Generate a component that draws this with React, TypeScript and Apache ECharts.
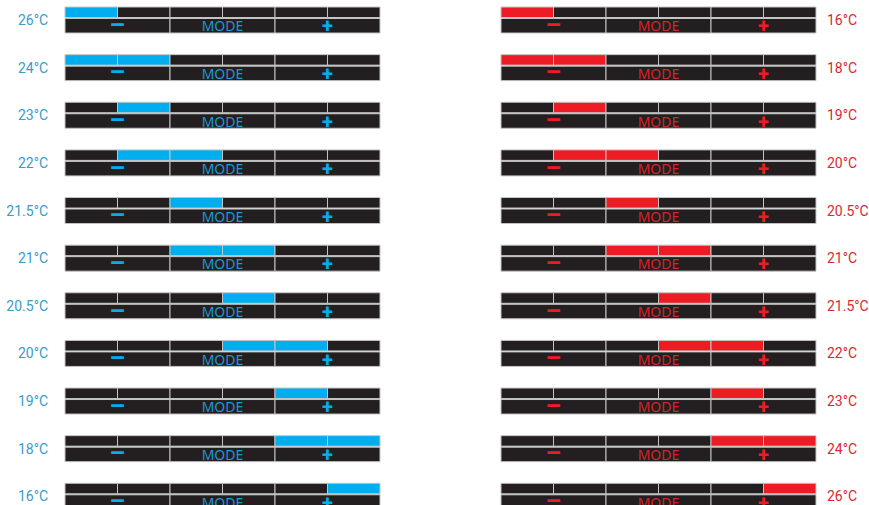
import React, { useEffect, useRef } from "react";
import * as echarts from "echarts";

const leftTemps = ["26°C", "24°C", "23°C", "22°C", "21.5°C", "21°C", "20.5°C", "20°C", "19°C", "18°C", "16°C"];
const rightTemps = ["16°C", "18°C", "19°C", "20°C", "20.5°C", "21°C", "21.5°C", "22°C", "23°C", "24°C", "26°C"];
const segStart = [0, 0, 1, 1, 2, 2, 3, 3, 4, 4, 5];
const segEnd = [1, 2, 2, 3, 3, 4, 4, 5, 5, 6, 6];
const buttonLabels = ["−", "MODE", "+"];
const segmentCount = 6;

const DARK = "#231f20";
const SEP = "#c4c4c4";

function makeRenderItem(barColor: string, textColor: string) {
  return (params: any, api: any) => {
    const row = api.value(0);
    const s = api.value(1);
    const e = api.value(2);
    const y = api.coord([0, row])[1];
    const xs: number[] = [];
    for (let k = 0; k <= segmentCount; k++) xs.push(api.coord([k, row])[0]);
    const children: any[] = [];
    const topY = y - 13;
    const topH = 10.5;
    const botY = y - 1.5;
    const botH = 14.5;
    for (let k = 0; k < segmentCount; k++) {
      const active = k >= s && k < e;
      children.push({
        type: "rect",
        shape: { x: xs[k], y: topY, width: xs[k + 1] - xs[k], height: topH },
        style: { fill: active ? barColor : DARK, stroke: SEP, lineWidth: 1 },
      });
    }
    for (let b = 0; b < 3; b++) {
      const x0 = xs[b * 2];
      const x1 = xs[b * 2 + 2];
      children.push({
        type: "rect",
        shape: { x: x0, y: botY, width: x1 - x0, height: botH },
        style: { fill: DARK, stroke: SEP, lineWidth: 1 },
      });
      const label = buttonLabels[b];
      const isWord = label === "MODE";
      const isPlus = label === "+";
      children.push({
        type: "text",
        style: {
          x: (x0 + x1) / 2,
          y: botY + botH / 2 + (isWord ? 0 : isPlus ? 0.5 : -2),
          text: label,
          fill: isWord ? textColor : barColor,
          font: isWord
            ? "14px 'Noto Sans', sans-serif"
            : isPlus
            ? "bold 20px Roboto, sans-serif"
            : "bold 26px 'Noto Sans', sans-serif",
          align: "center",
          verticalAlign: "middle",
        },
      });
    }
    return { type: "group", children };
  };
}

export default function App() {
  const ref = useRef<HTMLDivElement>(null);
  useEffect(() => {
    if (!ref.current) return;
    const chart = echarts.init(ref.current, null, { renderer: "svg" });
    const rows = leftTemps.map((_, i) => [i, segStart[i], segEnd[i]]);
    const yAxisBase = {
      type: "value",
      inverse: true,
      min: 0,
      max: 10,
      interval: 1,
      axisLine: { show: false },
      axisTick: { show: false },
      splitLine: { show: false },
    };
    chart.setOption({
      animation: false,
      grid: [
        { left: 65, width: 315, top: 20, height: 476.3, outerBoundsMode: "none", containLabel: false },
        { left: 501, width: 315, top: 20, height: 476.3, outerBoundsMode: "none", containLabel: false },
      ],
      xAxis: [
        { type: "value", gridIndex: 0, min: 0, max: segmentCount, show: false },
        { type: "value", gridIndex: 1, min: 0, max: segmentCount, show: false },
      ],
      yAxis: [
        {
          ...yAxisBase,
          gridIndex: 0,
          position: "left",
          axisLabel: {
            margin: 17,
            color: "#3a9ccb",
            fontFamily: "Roboto, sans-serif",
            fontSize: 14,
            formatter: (v: number) => leftTemps[Math.round(v)] ?? "",
          },
        },
        {
          ...yAxisBase,
          gridIndex: 1,
          position: "right",
          axisLabel: {
            margin: 11,
            color: "#d6292f",
            fontFamily: "Roboto, sans-serif",
            fontSize: 14,
            formatter: (v: number) => rightTemps[Math.round(v)] ?? "",
          },
        },
      ],
      series: [
        {
          type: "custom",
          xAxisIndex: 0,
          yAxisIndex: 0,
          renderItem: makeRenderItem("#00aeef", "#1e98d4"),
          data: rows,
          encode: { y: 0, x: [1, 2] },
        },
        {
          type: "custom",
          xAxisIndex: 1,
          yAxisIndex: 1,
          renderItem: makeRenderItem("#ed1c24", "#d8232a"),
          data: rows,
          encode: { y: 0, x: [1, 2] },
        },
      ],
    });
    return () => chart.dispose();
  }, []);
  return (
    <div
      ref={ref}
      style={{ position: "fixed", left: 0, top: 0, width: 869, height: 505, background: "#fff" }}
    />
  );
}
